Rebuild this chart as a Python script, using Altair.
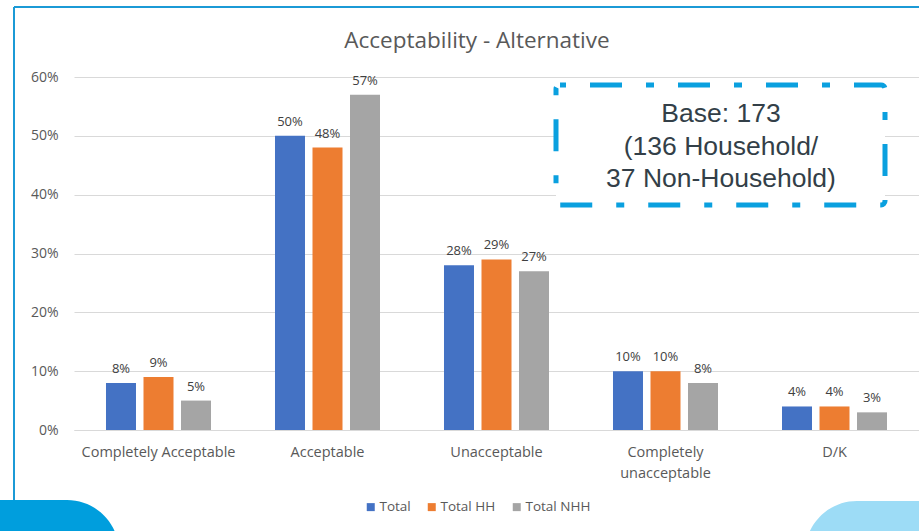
import altair as alt
import pandas as pd

# Response categories and shares per respondent group
categories = ["Completely Acceptable", "Acceptable", "Unacceptable",
              "Completely unacceptable", "D/K"]
series = ["Total", "Total HH", "Total NHH"]
total = [0.08, 0.50, 0.28, 0.10, 0.04]
total_hh = [0.09, 0.48, 0.29, 0.10, 0.04]
total_nhh = [0.05, 0.57, 0.27, 0.08, 0.03]
colors = ["#4472c4", "#ed7d31", "#a5a5a5"]

title_text = "Acceptability - Alternative"
base_note = ["Base: 173", "(136 Household/", "37 Non-Household)"]

rows = []
for name, vals in zip(series, [total, total_hh, total_nhh]):
    for cat, v in zip(categories, vals):
        rows.append({"category": cat, "series": name, "share": v})
df = pd.DataFrame(rows)

W, H = 845, 353
FONT = "Open Sans"
GREY = "#595959"

x_enc = alt.X(
    "category:N",
    sort=categories,
    scale=alt.Scale(paddingInner=0, paddingOuter=0),
    axis=alt.Axis(
        title=None, labelAngle=0, ticks=False, domainColor="#d9d9d9",
        labelFont=FONT, labelFontSize=14.5, labelColor=GREY,
        labelPadding=15, labelLineHeight=21,
        labelExpr="datum.label == 'Completely unacceptable' ? ['Completely', 'unacceptable'] : datum.label",
    ),
)
y_enc = alt.Y(
    "share:Q",
    scale=alt.Scale(domain=[0, 0.6], nice=False),
    axis=alt.Axis(
        title=None, format=".0%", values=[0, 0.1, 0.2, 0.3, 0.4, 0.5, 0.6],
        ticks=False, domain=False, gridColor="#d9d9d9", gridWidth=1,
        labelFont=FONT, labelFontSize=14, labelColor=GREY, labelPadding=16,
    ),
)
xoff = alt.XOffset(
    "series:N", sort=series,
    scale=alt.Scale(paddingInner=0.2, paddingOuter=0.853),
)
color_enc = alt.Color(
    "series:N", sort=series,
    scale=alt.Scale(domain=series, range=colors),
    legend=alt.Legend(
        title=None, orient="none", direction="horizontal",
        legendX=290, legendY=423, symbolType="square", symbolSize=64,
        symbolStrokeWidth=0, labelFont=FONT, labelFontSize=13.5,
        labelColor=GREY, labelOffset=2, columnPadding=14,
    ),
)

bars = alt.Chart(df).mark_bar(width=30).encode(
    x=x_enc, y=y_enc, xOffset=xoff, color=color_enc,
)

labels = alt.Chart(df).mark_text(
    dy=-7, font=FONT, fontSize=13, color="#404040", baseline="bottom",
).encode(
    x=alt.X("category:N", sort=categories),
    y="share:Q",
    xOffset=alt.XOffset("series:N", sort=series),
    text=alt.Text("share:Q", format=".0%"),
)

one = pd.DataFrame({"k": [0]})

# Slide frame: thin blue top and left borders
frame_top = alt.Chart(one).mark_rule(color="#1b9ad6", strokeWidth=2).encode(
    x=alt.value(-60), x2=alt.value(W + 10), y=alt.value(-70),
)
frame_left = alt.Chart(one).mark_rule(color="#1b9ad6", strokeWidth=2).encode(
    x=alt.value(-60), y=alt.value(-70), y2=alt.value(H + 110),
)

# Rounded corner shapes along the bottom edge
blob_left = alt.Chart(one).mark_rect(color="#009edd", cornerRadius=52).encode(
    x=alt.value(-160), x2=alt.value(45), y=alt.value(423), y2=alt.value(560),
)
blob_right = alt.Chart(one).mark_rect(color="#9ddcf6", cornerRadius=52).encode(
    x=alt.value(731), x2=alt.value(960), y=alt.value(424), y2=alt.value(560),
)

title = alt.Chart(one).mark_text(
    text=title_text, font=FONT, fontSize=22.5, color=GREY, baseline="middle",
).encode(x=alt.value(403), y=alt.value(-36))

# Dash-dot callout box with the sample base
box = alt.Chart(one).mark_rect(
    fill="white", stroke="#0aa0df", strokeWidth=5,
    strokeDash=[32, 24, 8, 24], strokeDashOffset=58, cornerRadius=4,
).encode(x=alt.value(482), x2=alt.value(811), y=alt.value(8), y2=alt.value(128))

box_text = alt.Chart(one).mark_text(
    text=base_note, font="Liberation Sans", fontSize=26.5, color="#333f48",
    lineHeight=32.5, baseline="middle",
).encode(x=alt.value(647), y=alt.value(37))

chart = alt.layer(
    frame_top, frame_left, blob_left, blob_right,
    bars, labels, box, box_text, title,
).properties(
    width=W, height=H,
    autosize=alt.AutoSizeParams(type="none"),
    padding={"left": 74, "top": 77, "right": 0, "bottom": 101},
    background="white",
).configure_view(stroke=None)

chart.save("out.html", embed_options={"renderer": "svg", "actions": False})
